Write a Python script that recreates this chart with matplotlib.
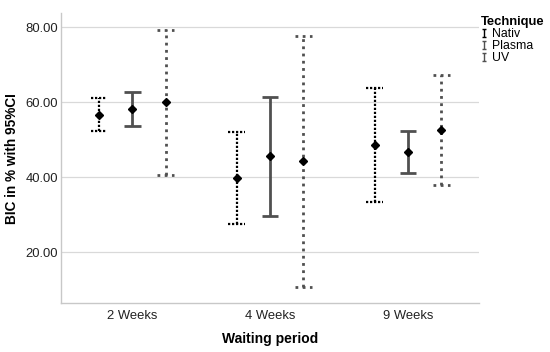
import numpy as np
import matplotlib
matplotlib.use('Agg')
import matplotlib.pyplot as plt
from matplotlib.lines import Line2D
from matplotlib.path import Path

plt.rcParams['font.family'] = ['Liberation Sans', 'DejaVu Sans']

# waiting periods on the x axis
periods = ['2 Weeks', '4 Weeks', '9 Weeks']
techniques = ['Nativ', 'Plasma', 'UV']

# mean BIC (%) and 95% CI
nativ_mean = [56.7, 39.9, 48.6]
nativ_lo = [52.3, 27.5, 33.5]
nativ_hi = [61.1, 52.0, 63.7]

plasma_mean = [58.1, 45.6, 46.7]
plasma_lo = [53.7, 29.8, 41.1]
plasma_hi = [62.7, 61.4, 52.4]

uv_mean = [60.0, 44.3, 52.5]
uv_lo = [40.7, 10.8, 37.9]
uv_hi = [79.2, 77.8, 67.3]

series = [(nativ_mean, nativ_lo, nativ_hi),
          (plasma_mean, plasma_lo, plasma_hi),
          (uv_mean, uv_lo, uv_hi)]
# line styles per technique
styles = [dict(color='black', ls=(0, (1, 0.8)), lw=1.6),
          dict(color='#505050', ls='-', lw=2.0),
          dict(color='#505050', ls=(0, (1, 1.6)), lw=2.0)]

fig = plt.figure(figsize=(5.5, 3.52), dpi=100)
ax = fig.add_axes([0.111, 0.138, 0.760, 0.824])

pos = np.arange(len(periods))
offsets = [-0.242, 0.0, 0.242]
cap = 0.06

for (m, lo, hi), off, st in zip(series, offsets, styles):
    x = pos + off
    ax.vlines(x, lo, hi, colors=st['color'], linestyles=st['ls'], linewidth=st['lw'], zorder=3)
    ax.hlines(lo, x - cap, x + cap, colors=st['color'], linestyles=st['ls'], linewidth=st['lw'], zorder=3)
    ax.hlines(hi, x - cap, x + cap, colors=st['color'], linestyles=st['ls'], linewidth=st['lw'], zorder=3)
    ax.plot(x, m, 'D', color='black', ms=4.5, zorder=4)

ax.set_xlim(-0.517, 2.516)
ax.set_ylim(6.4, 83.7)
ax.set_yticks([20, 40, 60, 80])
ax.set_yticklabels(['%.2f' % v for v in [20, 40, 60, 80]])
ax.set_xticks(pos)
ax.set_xticklabels(periods)
ax.tick_params(length=0, labelsize=9.4, colors='#222222')
ax.tick_params(axis='y', pad=2)
ax.tick_params(axis='x', pad=5)
ax.grid(axis='y', color='#d9d9d9', lw=0.9)
ax.set_axisbelow(True)
for s in ['top', 'right']:
    ax.spines[s].set_visible(False)
for s in ['left', 'bottom']:
    ax.spines[s].set_color('#c8c8c8')
    ax.spines[s].set_linewidth(1.0)

ax.set_ylabel('BIC in % with 95%CI', fontsize=9.8, fontweight='bold', labelpad=5)
ax.set_xlabel('Waiting period', fontsize=10, fontweight='bold', labelpad=7)

# small errorbar-shaped glyph for the legend
ebar = Path([(-0.6, 1), (0.6, 1), (0, 1), (0, -1), (-0.6, -1), (0.6, -1)],
            [Path.MOVETO, Path.LINETO, Path.MOVETO, Path.LINETO, Path.MOVETO, Path.LINETO])
handles = [Line2D([], [], ls='none', marker=ebar, ms=5.5, mew=1.0, mec=st['color'], mfc='none')
           for st in styles]
leg = fig.legend(handles, techniques, title='Technique', loc='upper left',
                 bbox_to_anchor=(0.858, 0.978), frameon=False, fontsize=8.8,
                 title_fontproperties={'weight': 'bold', 'size': 9.4},
                 handlelength=0.5, handletextpad=0.45, labelspacing=0.0,
                 alignment='left', borderpad=0.2)

fig.savefig('out.png', dpi=100)
